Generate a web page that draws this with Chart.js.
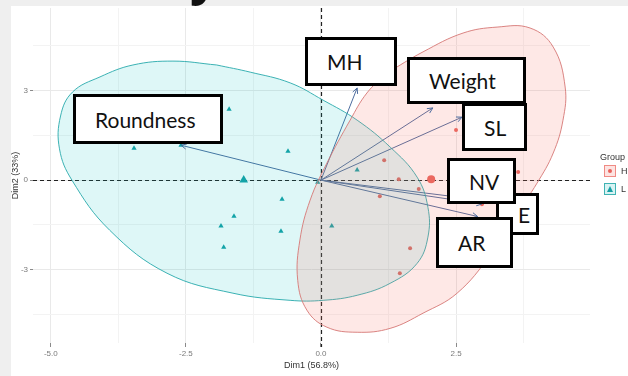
<!DOCTYPE html>
<html>
<head>
<meta charset="utf-8">
<title>PCA biplot</title>
<script src="https://cdn.jsdelivr.net/npm/chart.js@4.4.1/dist/chart.umd.min.js"></script>
<style>
  body {
    margin: 0;
    width: 628px;
    height: 376px;
    overflow: hidden;
    position: relative;
    background: #efefef;
    font-family: "Liberation Sans", Arial, sans-serif;
  }
  #panel {
    position: absolute;
    left: 11px; top: 6px; right: 0; bottom: 0;
    background: #fff;
  }
  #chartBox {
    position: absolute;
    left: 0; top: 0;
    width: 628px; height: 376px;
  }
  .varBox {
    position: absolute;
    box-sizing: border-box;
    background: #fff;
    border: 3px solid #000;
    padding-left: 19px;
    display: flex;
    align-items: center;
    font-family: Lato, "Open Sans", sans-serif;
    font-size: 21px;
    color: #111;
  }
  #topGlyph {
    position: absolute;
    left: 190px; top: -50px;
    font-family: "Open Sans", sans-serif;
    font-weight: 700;
    font-size: 50px;
    line-height: 50px;
    color: #111;
    z-index: 5;
  }
  #legend {
    position: absolute;
    left: 600px; top: 152px;
    font-size: 9px;
    color: #333;
  }
  #legend .row { display: flex; align-items: center; height: 18px; }
  #legend .key {
    width: 12px; height: 12px;
    margin: 0 5px 0 4px;
    position: relative;
    box-sizing: border-box;
  }
  #legend .key.h { background: #fde3e1; border: 1px solid #f08a84; }
  #legend .key.l { background: #d8f3f3; border: 1px solid #3fb3b3; }
  #legend .key.h i {
    position: absolute; left: 3px; top: 3px;
    width: 4px; height: 4px; border-radius: 50%; background: #e8615a;
  }
  #legend .key.l i {
    position: absolute; left: 2px; top: 2px;
    width: 0; height: 0;
    border-left: 3px solid transparent; border-right: 3px solid transparent;
    border-bottom: 6px solid #169fa4;
  }
</style>
</head>
<body>
<div id="panel"></div>
<div id="chartBox"><canvas id="biplot" width="628" height="376"></canvas></div>
<div id="topGlyph">y</div>
<div id="legend">
  <div>Group</div>
  <div class="row"><span class="key h"><i></i></span>H</div>
  <div class="row"><span class="key l"><i></i></span>L</div>
</div>

<script>
// Individuals, group H
const hX = [2.50, 1.17, 1.44, 1.81, 1.09, 1.65, 1.46, 3.65, 2.98];
const hY = [1.68, 0.67, 0.03, -0.30, -0.54, -2.28, -3.12, 0.27, -0.81];

// Individuals, group L
const lX = [-1.70, -3.46, -2.59, -0.61, -0.72, -1.61, -1.85, -0.74, -1.80, -0.06, 0.67, 0.20];
const lY = [2.38, 1.07, 1.17, 0.97, -0.64, -1.21, -1.54, -1.71, -2.25, -0.07, 0.34, -1.54];

// Group means
const meanX = [2.04, -1.43];
const meanY = [0.03, 0.00];

// Variable arrows
const varNames = ['MH', 'Weight', 'SL', 'NV', 'E', 'AR', 'Roundness'];
const varX = [0.67, 2.07, 2.61, 2.45, 2.98, 2.90, -2.59];
const varY = [3.09, 2.42, 2.11, -0.55, -0.80, -1.22, 1.17];

// Concentration ellipse outlines, first point repeated at the end
const ellHX = [1.22, 1.89, 2.63, 3.26, 3.87, 4.30, 4.52, 4.48, 4.30, 4.00, 3.63, 3.13, 2.52, 1.89, 1.28, 0.67, 0.11, -0.26, -0.43, -0.39, -0.20, 0.11, 0.54, 0.85, 1.22];
const ellHY = [3.59, 4.30, 4.93, 5.13, 5.10, 4.46, 3.12, 2.01, 0.91, -0.10, -1.11, -2.52, -3.79, -4.46, -4.97, -5.10, -4.93, -4.36, -3.36, -2.01, -0.67, 0.57, 2.01, 2.92, 3.59];
const ellLX = [-1.93, -1.31, -0.57, 0.04, 0.67, 1.28, 1.78, 1.98, 1.98, 1.78, 1.28, 0.67, 0.04, -0.57, -1.63, -2.85, -3.91, -4.61, -4.84, -4.82, -4.60, -4.09, -3.48, -2.74, -1.93];
const ellLY = [3.86, 3.62, 3.26, 2.68, 2.01, 1.11, 0.10, -0.91, -1.91, -2.79, -3.46, -3.86, -4.03, -4.03, -3.79, -3.12, -1.68, 0.00, 1.05, 2.15, 2.95, 3.46, 3.86, 3.99, 3.86];

// Axis ticks ('' = minor grid line only)
const xTickVals = [-5, -3.75, -2.5, -1.25, 0, 1.25, 2.5, 3.75];
const xTickLabels = ['-5.0', '', '-2.5', '', '0.0', '', '2.5', ''];
const yTickVals = [-4.5, -3, -1.5, 0, 1.5, 3, 4.5];
const yTickLabels = ['', '-3', '', '0', '', '3', ''];

// Where the white label boxes sit on the page: left, top, right, bottom
const boxLayout = [
  ['Weight', 407, 57, 526, 104],
  ['SL', 462, 103, 527, 151],
  ['MH', 305, 37, 397, 86],
  ['E', 496, 193, 539, 235],
  ['NV', 447, 158, 516, 204],
  ['AR', 436, 217, 513, 268],
  ['Roundness', 73, 94, 223, 144]
];

const toPts = (xs, ys) => xs.map((x, i) => ({ x: x, y: ys[i] }));
const arrowColor = '#4d6c9e';

// Dashed lines through the origin
const zeroLines = {
  id: 'zeroLines',
  beforeDatasetsDraw(chart) {
    const { ctx, chartArea, scales } = chart;
    const x0 = Math.round(scales.x.getPixelForValue(0)) + 0.5;
    const y0 = Math.round(scales.y.getPixelForValue(0)) + 0.5;
    ctx.save();
    ctx.strokeStyle = '#222';
    ctx.lineWidth = 1.2;
    ctx.setLineDash([4, 3]);
    ctx.beginPath();
    ctx.moveTo(chartArea.left, y0);
    ctx.lineTo(chartArea.right, y0);
    ctx.moveTo(x0, chartArea.top);
    ctx.lineTo(x0, chartArea.bottom + 4);
    ctx.stroke();
    ctx.restore();
  }
};

// Open arrow heads at the end of each variable line
const arrowHeads = {
  id: 'arrowHeads',
  afterDatasetsDraw(chart) {
    const ctx = chart.ctx;
    chart.data.datasets.forEach((ds, i) => {
      if (!ds.isArrow) return;
      const pts = chart.getDatasetMeta(i).data;
      const a = pts[0], b = pts[1];
      const ang = Math.atan2(b.y - a.y, b.x - a.x);
      const len = 6;
      ctx.save();
      ctx.strokeStyle = arrowColor;
      ctx.lineWidth = 1;
      ctx.beginPath();
      ctx.moveTo(b.x - len * Math.cos(ang - 0.45), b.y - len * Math.sin(ang - 0.45));
      ctx.lineTo(b.x, b.y);
      ctx.lineTo(b.x - len * Math.cos(ang + 0.45), b.y - len * Math.sin(ang + 0.45));
      ctx.stroke();
      ctx.restore();
    });
  }
};

const datasets = [
  {
    label: 'ellipse H',
    data: toPts(ellHX, ellHY),
    showLine: true,
    fill: 'shape',
    tension: 0.4,
    pointRadius: 0,
    borderWidth: 1,
    borderColor: 'rgba(214, 120, 118, 0.9)',
    backgroundColor: 'rgba(248, 118, 109, 0.17)'
  },
  {
    label: 'ellipse L',
    data: toPts(ellLX, ellLY),
    showLine: true,
    fill: 'shape',
    tension: 0.4,
    pointRadius: 0,
    borderWidth: 1,
    borderColor: 'rgba(40, 170, 172, 0.9)',
    backgroundColor: 'rgba(0, 191, 196, 0.13)'
  },
  {
    label: 'H',
    data: toPts(hX, hY),
    pointStyle: 'circle',
    pointRadius: 2,
    borderWidth: 0,
    backgroundColor: '#e8655e'
  },
  {
    label: 'L',
    data: toPts(lX, lY),
    pointStyle: 'triangle',
    pointRadius: 3,
    borderWidth: 0,
    backgroundColor: '#169fa4'
  },
  {
    label: 'means',
    data: toPts(meanX, meanY),
    pointStyle: ['circle', 'triangle'],
    pointRadius: [4, 5],
    borderWidth: 0,
    backgroundColor: ['#e8655e', '#169fa4']
  }
];

varNames.forEach((name, i) => {
  datasets.push({
    label: name,
    isArrow: true,
    data: [{ x: 0, y: 0 }, { x: varX[i], y: varY[i] }],
    showLine: true,
    pointRadius: 0,
    borderWidth: 1,
    borderColor: arrowColor
  });
});

const tickFont = { family: '"Liberation Sans", Arial, sans-serif', size: 8 };
const titleFont = { family: '"Liberation Sans", Arial, sans-serif', size: 9, lineHeight: 1.2 };

new Chart(document.getElementById('biplot'), {
  type: 'scatter',
  data: { datasets: datasets },
  options: {
    responsive: false,
    animation: false,
    devicePixelRatio: 1,
    layout: { padding: { left: 0, top: 8, right: 38, bottom: 0 } },
    plugins: {
      legend: { display: false },
      tooltip: { enabled: false }
    },
    scales: {
      x: {
        type: 'linear',
        min: -5.33,
        max: 4.98,
        afterBuildTicks: axis => { axis.ticks = xTickVals.map(v => ({ value: v })); },
        afterFit: axis => { axis.height = 33; },
        ticks: {
          font: tickFont,
          color: '#7a7a7a',
          padding: 2,
          maxRotation: 0,
          autoSkip: false,
          callback: v => xTickLabels[xTickVals.indexOf(v)]
        },
        grid: {
          color: c => (c.tick && xTickLabels[xTickVals.indexOf(c.tick.value)] !== '') ? '#e9e9e9' : '#f3f3f3',
          tickColor: c => (c.tick && xTickLabels[xTickVals.indexOf(c.tick.value)] !== '') ? '#8a8a8a' : 'rgba(0,0,0,0)',
          tickLength: 4
        },
        border: { display: false },
        title: {
          display: true,
          text: 'Dim1 (56.8%)',
          font: titleFont,
          color: '#333',
          padding: { top: 0, bottom: 5 }
        }
      },
      y: {
        type: 'linear',
        min: -5.46,
        max: 5.77,
        afterBuildTicks: axis => { axis.ticks = yTickVals.map(v => ({ value: v })); },
        afterFit: axis => { axis.width = 33; },
        ticks: {
          font: tickFont,
          color: '#7a7a7a',
          padding: 2,
          autoSkip: false,
          callback: v => yTickLabels[yTickVals.indexOf(v)]
        },
        grid: {
          color: c => (c.tick && yTickLabels[yTickVals.indexOf(c.tick.value)] !== '') ? '#e9e9e9' : '#f3f3f3',
          tickColor: c => (c.tick && yTickLabels[yTickVals.indexOf(c.tick.value)] !== '') ? '#8a8a8a' : 'rgba(0,0,0,0)',
          tickLength: 3
        },
        border: { display: false },
        title: {
          display: true,
          text: 'Dim2 (33%)',
          font: titleFont,
          color: '#333',
          padding: { top: 10, bottom: 0 }
        }
      }
    }
  },
  plugins: [zeroLines, arrowHeads]
});

// White label boxes laid over the plot
boxLayout.forEach(b => {
  const el = document.createElement('div');
  el.className = 'varBox';
  el.textContent = b[0];
  el.style.left = b[1] + 'px';
  el.style.top = b[2] + 'px';
  el.style.width = (b[3] - b[1]) + 'px';
  el.style.height = (b[4] - b[2]) + 'px';
  document.body.appendChild(el);
});
</script>
</body>
</html>
